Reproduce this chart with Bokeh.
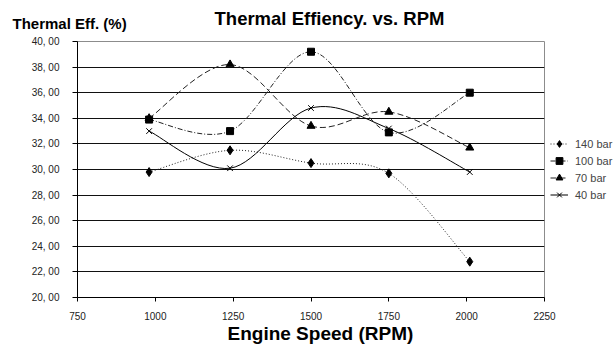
from bokeh.plotting import figure
from bokeh.models import Range1d, FixedTicker, Label, Legend, LegendItem, ColumnDataSource, Title
from bokeh.embed import file_html
from bokeh.resources import INLINE

rpm = [980, 1240, 1500, 1750, 2010]
eff_140 = [29.8, 31.5, 30.5, 29.7, 22.8]
eff_100 = [33.9, 33.0, 39.2, 32.9, 36.0]
eff_70 = [34.0, 38.2, 33.4, 34.5, 31.7]
eff_40 = [33.0, 30.1, 34.8, 33.2, 29.8]
series_names = ["140 bar", "100 bar", "70 bar", "40 bar"]
y_ticks = [20, 22, 24, 26, 28, 30, 32, 34, 36, 38, 40]
y_tick_labels = ["20, 00", "22, 00", "24, 00", "26, 00", "28, 00", "30, 00",
                 "32, 00", "34, 00", "36, 00", "38, 00", "40, 00"]
x_ticks = [750, 1000, 1250, 1500, 1750, 2000, 2250]

FONT = "Liberation Sans"
NAN = float("nan")

p = figure(frame_width=467, frame_height=256, output_backend="svg", toolbar_location=None,
           x_range=Range1d(750, 2250), y_range=Range1d(20, 40),
           min_border_left=77, min_border_right=72, min_border_top=41, min_border_bottom=49)
p.outline_line_color = "#8c8c8c"
p.outline_line_width = 1
p.background_fill_color = "white"
p.border_fill_color = "white"

p.xgrid.visible = False
p.ygrid.ticker = FixedTicker(ticks=y_ticks)
p.ygrid.grid_line_color = "#111111"
p.ygrid.grid_line_width = 1

p.yaxis.ticker = FixedTicker(ticks=y_ticks)
p.yaxis.major_label_overrides = {t: l for t, l in zip(y_ticks, y_tick_labels)}
p.xaxis.ticker = FixedTicker(ticks=x_ticks)
for ax in (p.xaxis, p.yaxis):
    ax.axis_line_color = "black"
    ax.major_tick_line_color = "black"
    ax.minor_tick_line_color = None
    ax.major_tick_in = 0
    ax.major_label_text_font = FONT
    ax.major_label_text_font_size = "10px"
    ax.major_label_text_color = "#222222"
p.yaxis.major_tick_out = 5
p.xaxis.major_tick_out = 4
p.yaxis.major_label_standoff = 13
p.xaxis.major_label_standoff = 10


def smooth(xs, ys):
    n = len(xs)
    cols = dict(x0=[], y0=[], x1=[], y1=[], cx0=[], cy0=[], cx1=[], cy1=[])
    for i in range(n - 1):
        xp, yp = (xs[i - 1], ys[i - 1]) if i > 0 else (xs[i], ys[i])
        xn, yn = (xs[i + 2], ys[i + 2]) if i + 2 < n else (xs[i + 1], ys[i + 1])
        cols["x0"].append(xs[i]); cols["y0"].append(ys[i])
        cols["x1"].append(xs[i + 1]); cols["y1"].append(ys[i + 1])
        cols["cx0"].append(xs[i] + (xs[i + 1] - xp) / 6.0)
        cols["cy0"].append(ys[i] + (ys[i + 1] - yp) / 6.0)
        cols["cx1"].append(xs[i + 1] - (xn - xs[i]) / 6.0)
        cols["cy1"].append(ys[i + 1] - (yn - ys[i]) / 6.0)
    return ColumnDataSource(cols)


styles = [
    (eff_140, "1 2", "diamond", 9, "#222222"),
    (eff_100, "5 2 1 2", "square", 7, "#222222"),
    (eff_70, "6 3", "triangle", 8, "#222222"),
    (eff_40, "solid", "x", 8, "#000000"),
]

items = []
for name, (ys, dash, marker, size, lc) in zip(series_names, styles):
    p.bezier(x0="x0", y0="y0", x1="x1", y1="y1", cx0="cx0", cy0="cy0", cx1="cx1", cy1="cy1",
             source=smooth(rpm, ys), line_color=lc, line_width=1, line_dash=dash)
    lg = p.line(x=[NAN], y=[NAN], line_color=lc, line_width=1, line_dash=dash)
    mk = p.scatter(x=rpm, y=ys, marker=marker, size=size, fill_color="black",
                   line_color="black", line_width=1)
    items.append(LegendItem(label=name, renderers=[lg, mk]))

legend = Legend(items=items, location="center_left", padding=0, margin=6, spacing=0,
                glyph_width=18, glyph_height=17, label_height=17, label_standoff=7,
                label_text_font=FONT, label_text_font_size="11px",
                border_line_color=None, background_fill_alpha=0)
p.add_layout(legend, "right")

p.add_layout(Title(text="Engine Speed (RPM)", align="left", offset=150, standoff=0,
                   vertical_align="top",
                   text_font=FONT, text_font_size="19px", text_font_style="bold",
                   text_color="black"), "below")
p.add_layout(Label(x=252, y=23, x_units="screen", y_units="screen",
                   text="Thermal Effiency. vs. RPM", text_align="center",
                   text_baseline="middle", text_font=FONT, text_font_size="18.5px",
                   text_font_style="bold", text_color="black"), "above")
p.add_layout(Label(x=-65, y=-3, x_units="screen", y_units="screen", text="Thermal Eff. (%)",
                   text_align="left", text_baseline="middle", text_font=FONT,
                   text_font_size="15px", text_font_style="bold", text_color="black"), "above")

open("out.html", "w").write(file_html(p, INLINE))
